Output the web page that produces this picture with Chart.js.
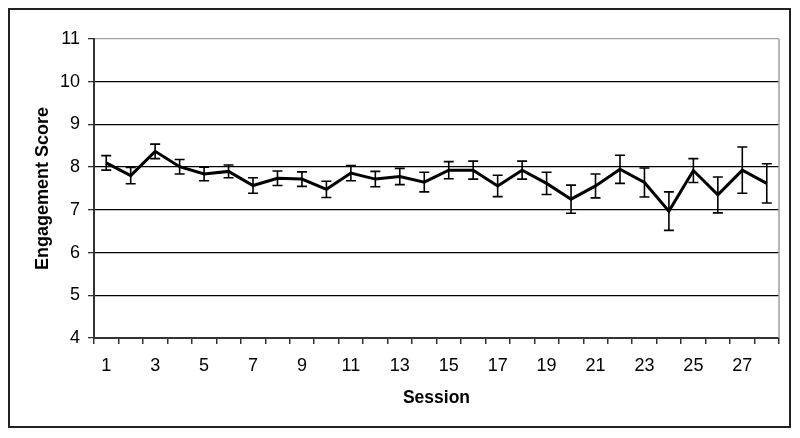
<!DOCTYPE html>
<html>
<head>
<meta charset="utf-8">
<script src="https://cdn.jsdelivr.net/npm/chart.js@4.4.1/dist/chart.umd.min.js"></script>
<style>
  html, body { margin: 0; padding: 0; background: #fff; }
  #c { display: block; }
</style>
</head>
<body>
<canvas id="c" width="800" height="438"></canvas>
<script>
// ---- Data ----
const sessions = [1,2,3,4,5,6,7,8,9,10,11,12,13,14,15,16,17,18,19,20,21,22,23,24,25,26,27,28];
const means = [8.10,7.80,8.37,8.01,7.84,7.90,7.57,7.74,7.72,7.48,7.86,7.72,7.78,7.65,7.93,7.93,7.56,7.93,7.62,7.25,7.56,7.95,7.64,6.97,7.92,7.35,7.93,7.62];
const errors = [0.17,0.19,0.17,0.17,0.16,0.15,0.18,0.17,0.17,0.19,0.18,0.18,0.19,0.23,0.20,0.21,0.25,0.21,0.26,0.33,0.28,0.33,0.34,0.45,0.28,0.42,0.54,0.46];
const yTicks = [4,5,6,7,8,9,10,11];
const xTitle = 'Session';
const yTitle = 'Engagement Score';

const FONT = '"Liberation Sans", Arial, sans-serif';

const frame = {
  id: 'frame',
  beforeDraw(chart) {
    const ctx = chart.ctx;
    ctx.save();
    ctx.fillStyle = '#fff';
    ctx.fillRect(0, 0, chart.width, chart.height);
    ctx.restore();
  },
  afterDraw(chart) {
    const ctx = chart.ctx;
    const a = chart.chartArea;
    ctx.save();
    ctx.strokeStyle = '#a0a0a0';
    ctx.lineWidth = 1.5;
    ctx.beginPath();
    ctx.moveTo(a.right, a.top);
    ctx.lineTo(a.right, a.bottom);
    ctx.stroke();
    ctx.strokeStyle = '#222';
    ctx.lineWidth = 2;
    ctx.strokeRect(9, 9, 781, 418);
    ctx.restore();
  }
};

const errorBars = {
  id: 'errorBars',
  afterDatasetsDraw(chart) {
    const ctx = chart.ctx;
    const xs = chart.scales.x, ys = chart.scales.y;
    ctx.save();
    ctx.strokeStyle = '#000';
    ctx.lineWidth = 1.6;
    means.forEach((m, i) => {
      const x = xs.getPixelForValue(i);
      const yt = ys.getPixelForValue(m + errors[i]);
      const yb = ys.getPixelForValue(m - errors[i]);
      ctx.beginPath();
      ctx.moveTo(x, yt); ctx.lineTo(x, yb);
      ctx.moveTo(x - 5, yt); ctx.lineTo(x + 5, yt);
      ctx.moveTo(x - 5, yb); ctx.lineTo(x + 5, yb);
      ctx.stroke();
    });
    ctx.restore();
  }
};

new Chart(document.getElementById('c'), {
  type: 'line',
  data: {
    labels: sessions,
    datasets: [{
      data: means,
      borderColor: '#000',
      borderWidth: 3,
      pointRadius: 0,
      tension: 0,
      fill: false
    }]
  },
  options: {
    responsive: false,
    animation: false,
    layout: { padding: { left: 0, right: 21, top: 39, bottom: 0 } },
    plugins: { legend: { display: false }, tooltip: { enabled: false } },
    scales: {
      x: {
        type: 'category',
        offset: true,
        grid: { offset: true, drawOnChartArea: false, drawTicks: true, tickLength: 6, color: '#333', lineWidth: 1.5 },
        border: { display: true, color: '#333', width: 2 },
        ticks: {
          autoSkip: false, maxRotation: 0, minRotation: 0, padding: 11, color: '#000',
          font: { family: FONT, size: 18 },
          callback: (v, i) => (i % 2 === 0 ? String(sessions[i]) : '')
        },
        title: { display: true, text: xTitle, color: '#000', font: { family: FONT, size: 17.5, weight: 'bold' }, padding: { top: 0, bottom: 29 } },
        afterFit: s => { s.height = 100; }
      },
      y: {
        min: 4, max: 11,
        afterBuildTicks: s => { s.ticks = yTicks.map(v => ({ value: v })); },
        grid: {
          color: c => (c.tick && c.tick.value === 11 ? '#a0a0a0' : '#000'),
          tickColor: '#333', lineWidth: 1.3, tickLength: 6
        },
        border: { display: true, color: '#333', width: 2 },
        ticks: { padding: 8, color: '#000', font: { family: FONT, size: 18 } },
        title: { display: true, text: yTitle, color: '#000', font: { family: FONT, size: 18, weight: 'bold' }, padding: { top: 32, bottom: 0 } },
        afterFit: s => { s.width = 94; }
      }
    }
  },
  plugins: [frame, errorBars]
});
</script>
</body>
</html>
